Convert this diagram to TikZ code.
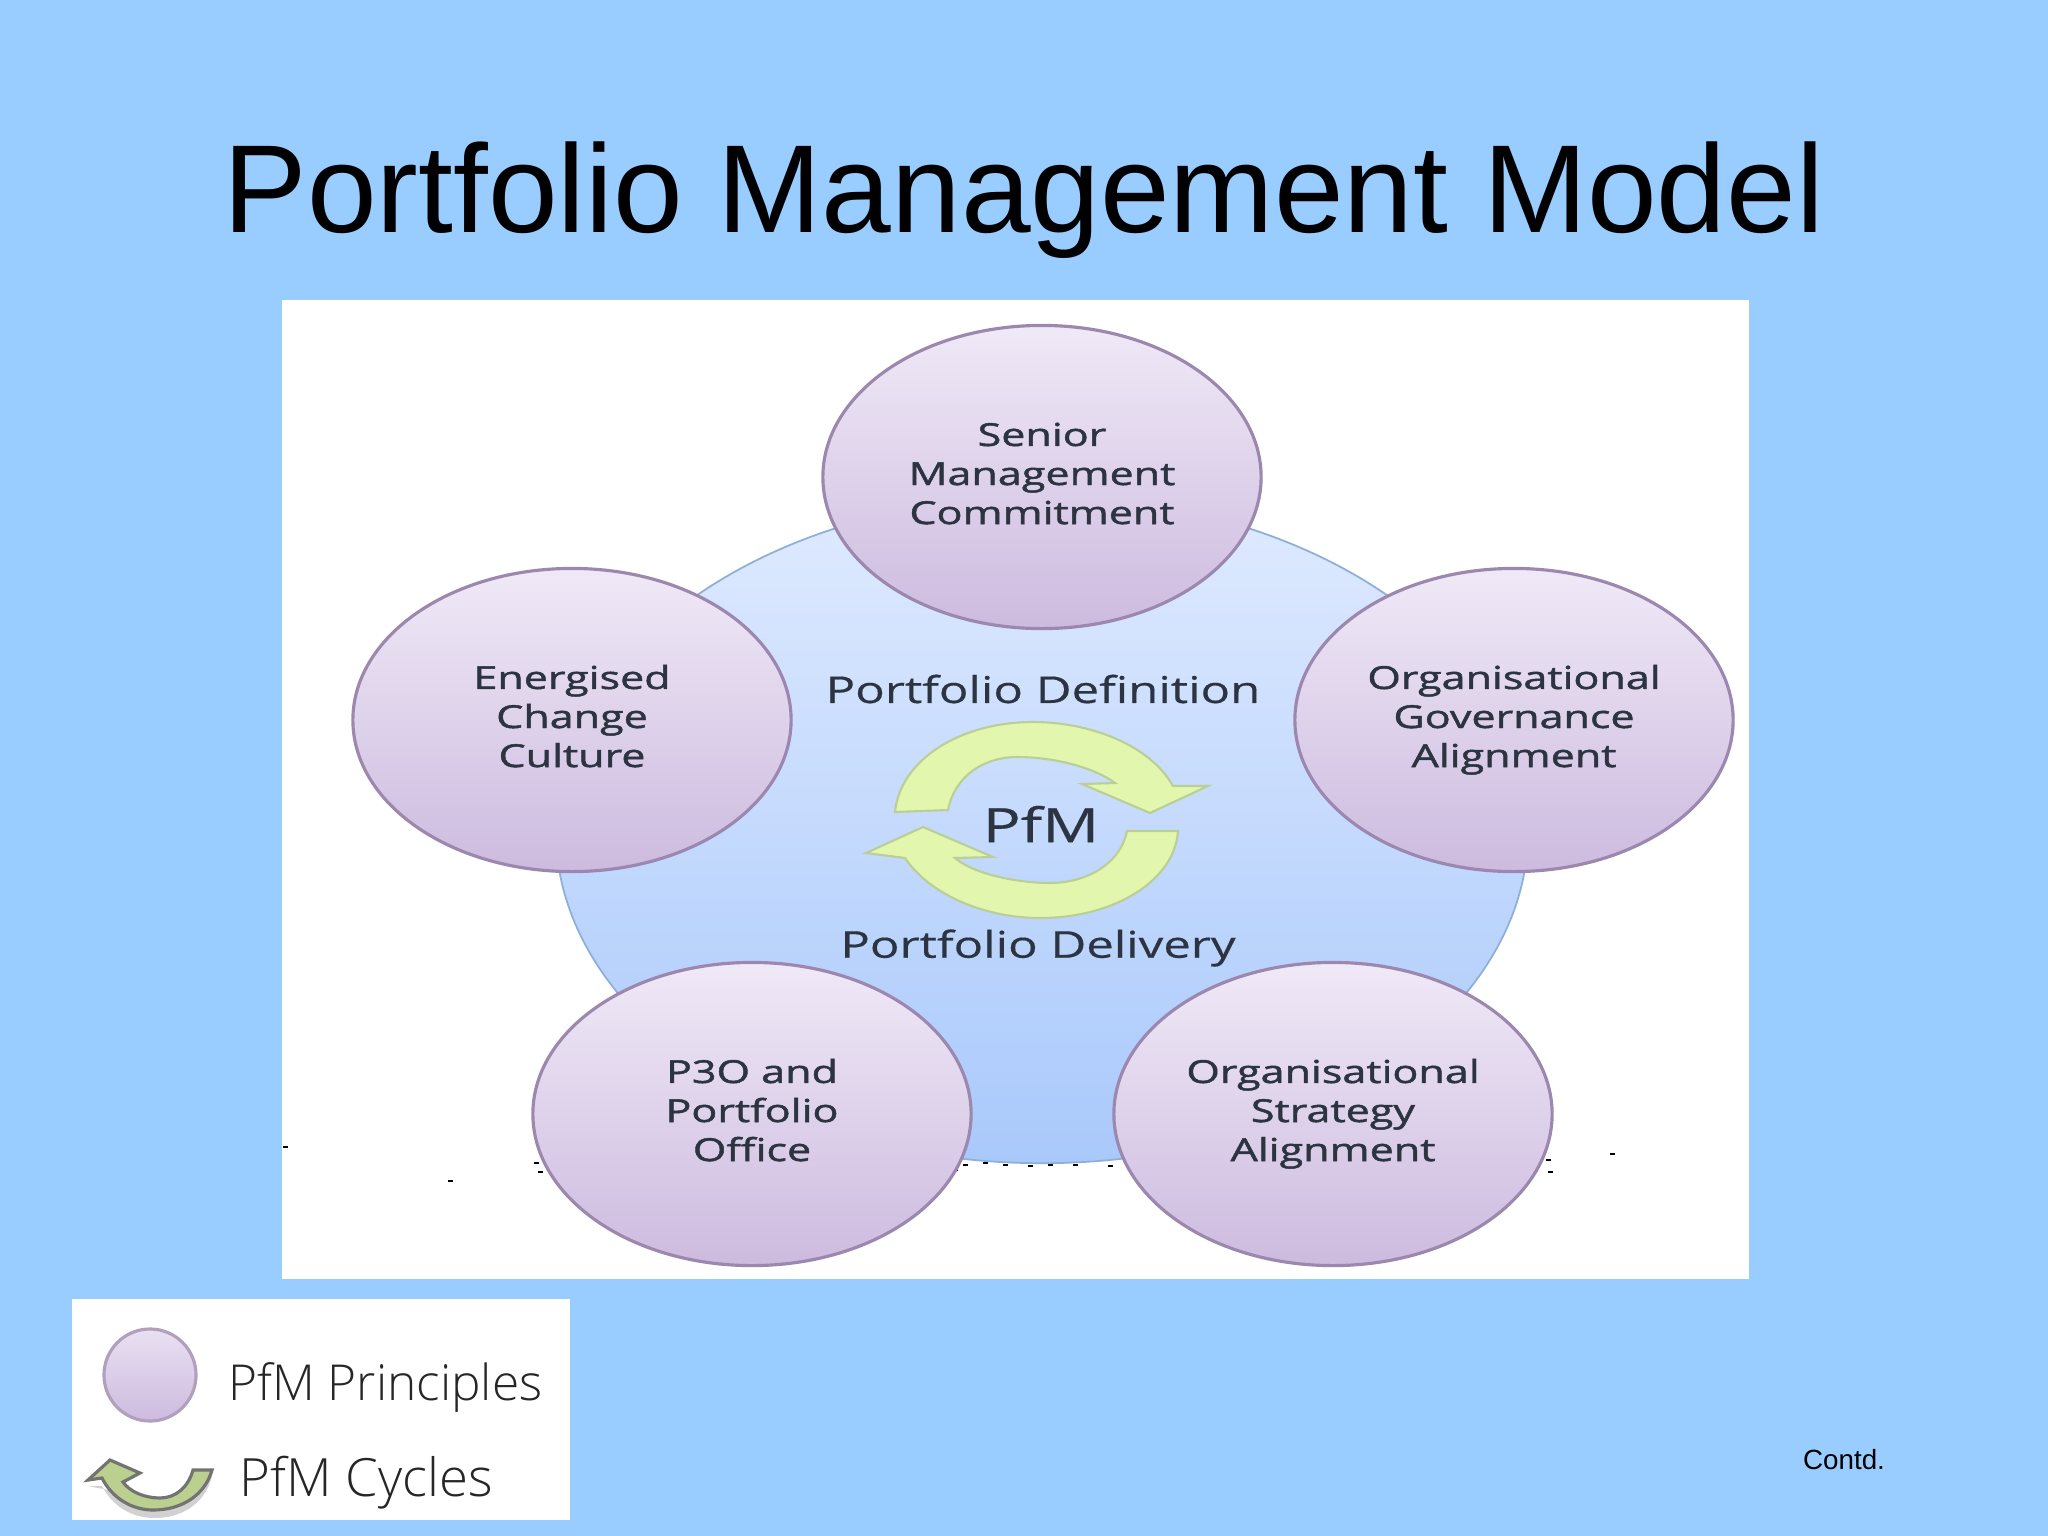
\documentclass[tikz,border=0pt]{standalone}
\usepackage{fontspec}
\setmainfont{Liberation Sans}
\newfontfamily\pfmfont{Open Sans Light}
\newfontfamily\principlefont[FakeStretch=1.36,FakeBold=1.5]{Open Sans}
\newfontfamily\cyclefont[FakeStretch=1.33,FakeBold=0.4]{Open Sans}
\usepackage{tikz}
\usetikzlibrary{shapes}
\definecolor{slide}{HTML}{99CCFF}
\definecolor{pfmtext}{HTML}{2B3440}
\definecolor{rimpurple}{HTML}{9C88AE}
\definecolor{lilactop}{HTML}{F0E9F7}
\definecolor{lilacbot}{HTML}{CDBBDF}
\definecolor{disctop}{HTML}{DFEAFF}
\definecolor{discbot}{HTML}{A9C9FB}
\definecolor{discrim}{HTML}{8DB0D8}
\definecolor{arrowgreen}{HTML}{E2F6AE}
\definecolor{arrowrim}{HTML}{B9CF95}
\definecolor{cyclegreen}{HTML}{BBCF8F}
\tikzset{
  principle/.style={ellipse, draw=rimpurple, line width=0.9pt, top color=lilactop, bottom color=lilacbot,
    minimum width=4.38cm, minimum height=3.03cm, inner sep=0pt, align=center, text=pfmtext,
    text height=1.0cm, text depth=0.06cm,
    font=\principlefont\fontsize{9pt}{11.1pt}\selectfont},
  cyclelabel/.style={text=pfmtext, font=\cyclefont\fontsize{10.5pt}{12pt}\selectfont},
  legendlabel/.style={anchor=west, text=black!85, font=\pfmfont\fontsize{14.1pt}{16pt}\selectfont},
  speck/.style={fill=black, inner sep=0pt, minimum width=0.05cm, minimum height=0.02cm},
  cyclearrow/.style={fill=arrowgreen, draw=arrowrim, line width=0.6pt},
}
\newcommand{\principlenode}[4]{\node[principle] (#1) at (#2,#3) {#4};}
\begin{document}
\begin{tikzpicture}[x=0.01cm, y=-0.01cm]
        % slide
        \fill[slide] (0,0) rectangle (2048,1536);
        \useasboundingbox (0,0) rectangle (2048,1536);
        \node[anchor=base, font=\fontsize{35.6pt}{40pt}\selectfont] (title) at (1024,232) {Portfolio Management Model};
        \fill[white] (282,300) rectangle (1749,1279);
        % big disc
        \node[ellipse, draw=discrim, line width=0.5pt, top color=disctop, bottom color=discbot,
            minimum width=9.72cm, minimum height=6.66cm] (disc) at (1042,830) {};
        % specks
        \foreach \sx/\sy in {536/1163, 540/1172, 955/1170, 965/1165, 985/1163, 1005/1165, 1030/1166, 1050/1165, 1075/1165, 1110/1166, 1548/1160, 1550/1172, 1612/1154, 285/1147, 450/1181}
            \node[speck] (s\sx) at (\sx,\sy) {};
        % principles
        \principlenode{senior}{1042}{477}{Senior\\Management\\Commitment}
        \principlenode{governance}{1514}{720}{Organisational\\Governance\\Alignment}
        \principlenode{strategy}{1333}{1114}{Organisational\\Strategy\\Alignment}
        \principlenode{office}{752}{1114}{P3O and\\Portfolio\\Office}
        \principlenode{culture}{572}{720}{Energised\\Change\\Culture}
        % cycles
        \node[cyclelabel] (definition) at (1043,689) {Portfolio Definition};
        \node[cyclelabel] (delivery) at (1038,948) {Portfolio Delivery};
        \node[cyclelabel, font=\cyclefont\fontsize{13.5pt}{15pt}\selectfont] (pfm) at (1041,824) {PfM};
        \filldraw[cyclearrow] (895,812) .. controls (900,760) and (960,722) .. (1033,722)
            .. controls (1090,722) and (1150,745) .. (1173,786) -- (1208,786) -- (1150,813) -- (1082,784) -- (1115,783)
            .. controls (1095,768) and (1055,757) .. (1017,757) .. controls (985,757) and (955,775) .. (948,810) -- cycle;
        \filldraw[cyclearrow] (1178,831) .. controls (1175,880) and (1115,918) .. (1040,918)
            .. controls (985,918) and (930,895) .. (905,858) -- (866,853) -- (923,827) -- (993,857) -- (955,858)
            .. controls (975,875) and (1020,883) .. (1050,883) .. controls (1085,883) and (1120,865) .. (1127,831) -- cycle;
        % legend
        \fill[white] (72,1299) rectangle (570,1520);
        \node[circle, draw=rimpurple!80, line width=0.9pt, top color=lilactop!80!lilacbot, bottom color=lilacbot, minimum size=0.92cm, inner sep=0pt] (legenddisc) at (150,1375) {};
        \node[legendlabel] (legendprinciples) at (216,1387) {PfM Principles};
        \node[legendlabel, font=\pfmfont\fontsize{15pt}{16pt}\selectfont] (legendcycles) at (227,1483) {PfM Cycles};
        \fill[black!18] (212,1476) .. controls (205,1505) and (180,1518) .. (155,1518) .. controls (130,1518) and (112,1505) .. (102,1486) -- (88,1486) -- (160,1500) -- cycle;
        \filldraw[fill=cyclegreen, draw=black!55, line width=0.9pt] (212,1470) -- (193,1470) .. controls (188,1488) and (175,1498) .. (160,1498)
            .. controls (145,1498) and (130,1492) .. (123,1482) -- (140,1473) -- (110,1460) -- (88,1480) -- (102,1478)
            .. controls (112,1498) and (132,1510) .. (153,1510) .. controls (182,1510) and (205,1495) .. (212,1470) -- cycle;
        \node[anchor=base, font=\fontsize{7.9pt}{9pt}\selectfont] (contd) at (1844,1469) {Contd.};
    \end{tikzpicture}
\end{document}
